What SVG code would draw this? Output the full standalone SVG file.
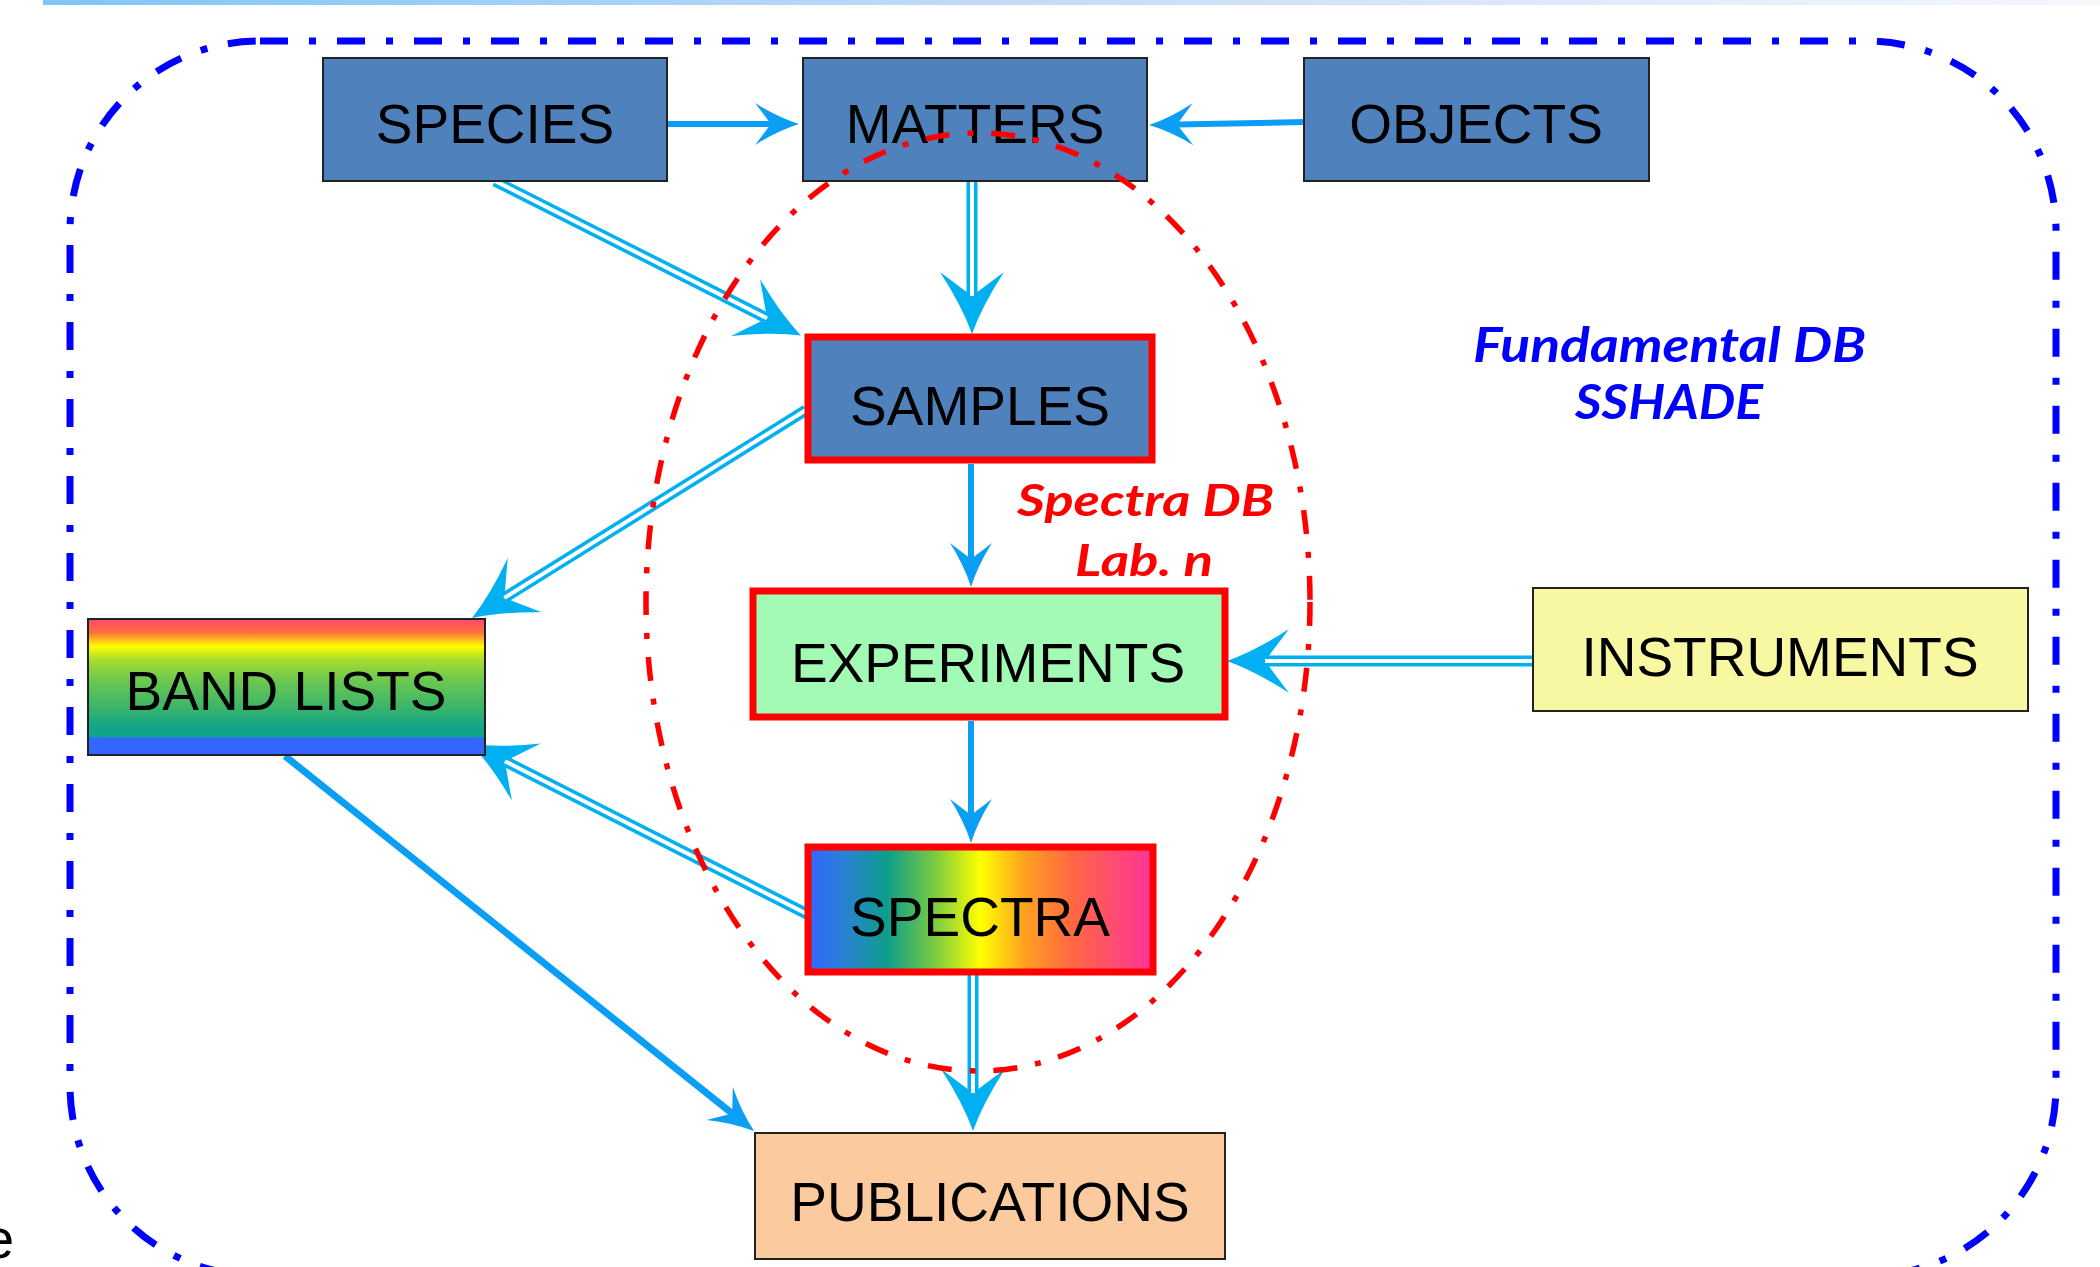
<svg xmlns="http://www.w3.org/2000/svg" width="2100" height="1267" viewBox="0 0 2100 1267">
<defs>
<style>
.box{stroke:#222;stroke-width:2}
.red{stroke:#FF0000;stroke-width:7}
.lbl{font-family:"Liberation Sans",Arial,sans-serif;font-size:55px;fill:#000;text-anchor:middle}
.it{font-family:Lato,"Open Sans",sans-serif;font-weight:bold;font-style:italic}
.solid{stroke:#0A9EF5;stroke-width:6;fill:none}
.dbl{stroke:#00B0F0;stroke-width:11;fill:none}
.dblin{stroke:#fff;stroke-width:4;fill:none}
</style>
<linearGradient id="bar" x1="0" y1="0" x2="1" y2="0">
<stop offset="0" stop-color="#7EC6F7"/>
<stop offset="0.5" stop-color="#C8DCF8"/>
<stop offset="1" stop-color="#F5F8FD"/>
</linearGradient>
<linearGradient id="band" x1="0" y1="0" x2="0" y2="1">
<stop offset="0" stop-color="#FF4870"/>
<stop offset="0.1" stop-color="#FF6F3C"/>
<stop offset="0.2" stop-color="#FFFF00"/>
<stop offset="0.3" stop-color="#A8DC30"/>
<stop offset="0.45" stop-color="#6CC850"/>
<stop offset="0.65" stop-color="#3CB46A"/>
<stop offset="0.8" stop-color="#10A58A"/>
<stop offset="0.86" stop-color="#0EA58A"/>
<stop offset="0.88" stop-color="#3366FF"/>
<stop offset="1" stop-color="#3366FF"/>
</linearGradient>
<linearGradient id="spec" x1="0" y1="0" x2="1" y2="0">
<stop offset="0" stop-color="#3366FF"/>
<stop offset="0.1" stop-color="#2A80D8"/>
<stop offset="0.23" stop-color="#0D9E8A"/>
<stop offset="0.37" stop-color="#7CCC40"/>
<stop offset="0.5" stop-color="#FFFF00"/>
<stop offset="0.63" stop-color="#FFA020"/>
<stop offset="0.77" stop-color="#FF6644"/>
<stop offset="1" stop-color="#FF3399"/>
</linearGradient>
<marker id="hs" markerUnits="userSpaceOnUse" orient="auto" refX="0" refY="0" markerWidth="10" markerHeight="10" overflow="visible">
<path d="M28,0 Q6,-7 -16,-21 L0,0 L-16,21 Q6,7 28,0 Z" fill="#0A9EF5"/>
</marker>
<marker id="hd" markerUnits="userSpaceOnUse" orient="auto" refX="0" refY="0" markerWidth="10" markerHeight="10" overflow="visible">
<path d="M38,0 Q10,-10 -24,-32 L0,0 L-24,32 Q10,10 38,0 Z" fill="#00B0F0"/>
</marker>
</defs>
<rect width="2100" height="1267" fill="#fff"/>
<rect x="43" y="0" width="2057" height="5" fill="url(#bar)"/>
<rect id="fundamental-db" x="70" y="41" width="1986" height="1235" rx="190" ry="190" fill="none" stroke="#0000FF" stroke-width="7" stroke-dasharray="28 21 7 21"/>

<g id="connectors">
<line class="solid" x1="667" y1="124" x2="771" y2="124" marker-end="url(#hs)"/>
<line class="solid" x1="1304" y1="122" x2="1177" y2="124.5" marker-end="url(#hs)"/>
<line class="solid" x1="971" y1="464" x2="971" y2="559" marker-end="url(#hs)"/>
<line class="solid" x1="971" y1="721" x2="971" y2="815" marker-end="url(#hs)"/>
<line class="solid" style="stroke-width:7" x1="285" y1="756" x2="732.2" y2="1113.5" marker-end="url(#hs)"/>
<line class="dbl" x1="495" y1="181" x2="767" y2="318.3" marker-end="url(#hd)"/>
<line class="dblin" x1="495" y1="181" x2="767" y2="318.3"/>
<line class="dbl" x1="972" y1="182" x2="972" y2="296" marker-end="url(#hd)"/>
<line class="dblin" x1="972" y1="182" x2="972" y2="296"/>
<line class="dbl" x1="806" y1="410" x2="504.3" y2="597.9" marker-end="url(#hd)"/>
<line class="dblin" x1="806" y1="410" x2="504.3" y2="597.9"/>
<line class="dbl" x1="809" y1="915" x2="504.9" y2="761.2" marker-end="url(#hd)"/>
<line class="dblin" x1="809" y1="915" x2="504.9" y2="761.2"/>
<line class="dbl" x1="1533" y1="661" x2="1265" y2="661" marker-end="url(#hd)"/>
<line class="dblin" x1="1533" y1="661" x2="1265" y2="661"/>
<line class="dbl" x1="973" y1="975" x2="973" y2="1093" marker-end="url(#hd)"/>
<line class="dblin" x1="973" y1="975" x2="973" y2="1093"/>
</g>

<g id="species"><rect class="box" x="323" y="58" width="344" height="123" fill="#4F81BD"/><text class="lbl" x="495" y="143">SPECIES</text></g>
<g id="matters"><rect class="box" x="803" y="58" width="344" height="123" fill="#4F81BD"/><text class="lbl" x="975" y="143">MATTERS</text></g>
<g id="objects"><rect class="box" x="1304" y="58" width="345" height="123" fill="#4F81BD"/><text class="lbl" x="1476" y="143">OBJECTS</text></g>
<g id="samples"><rect class="red" x="808" y="337" width="344" height="123" fill="#4F81BD"/><text class="lbl" x="980" y="425">SAMPLES</text></g>
<g id="experiments"><rect class="red" x="753" y="591" width="472" height="126" fill="#A2FAB4"/><text class="lbl" x="988" y="682">EXPERIMENTS</text></g>
<g id="instruments"><rect class="box" x="1533" y="588" width="495" height="123" fill="#F8F8A2"/><text class="lbl" x="1780" y="676">INSTRUMENTS</text></g>
<g id="band-lists"><rect class="box" x="88" y="619" width="397" height="136" fill="url(#band)"/><text class="lbl" x="286" y="710">BAND LISTS</text></g>
<g id="spectra"><rect class="red" x="808" y="847" width="345" height="125" fill="url(#spec)"/><text class="lbl" x="980" y="936">SPECTRA</text></g>
<g id="publications"><rect class="box" x="755" y="1133" width="470" height="126" fill="#FBCA9F"/><text class="lbl" x="990" y="1221">PUBLICATIONS</text></g>

<ellipse id="spectra-db" cx="978" cy="602" rx="332" ry="469" fill="none" stroke="#FF0000" stroke-width="5.5" stroke-dasharray="24 18 6 18"/>

<g id="labels">
<text class="it" x="1473" y="362" font-size="47" fill="#0000FF" textLength="393" lengthAdjust="spacingAndGlyphs">Fundamental DB</text>
<text class="it" x="1575" y="419" font-size="47" fill="#0000FF" textLength="188" lengthAdjust="spacingAndGlyphs">SSHADE</text>
<text class="it" x="1017" y="516" font-size="44" fill="#FF0000" textLength="257" lengthAdjust="spacingAndGlyphs">Spectra DB</text>
<text class="it" x="1075" y="576" font-size="44" fill="#FF0000" textLength="138" lengthAdjust="spacingAndGlyphs">Lab. n</text>
<text x="-17" y="1258" font-family="Liberation Sans, Arial, sans-serif" font-size="56" fill="#000">e</text>
</g>
</svg>
